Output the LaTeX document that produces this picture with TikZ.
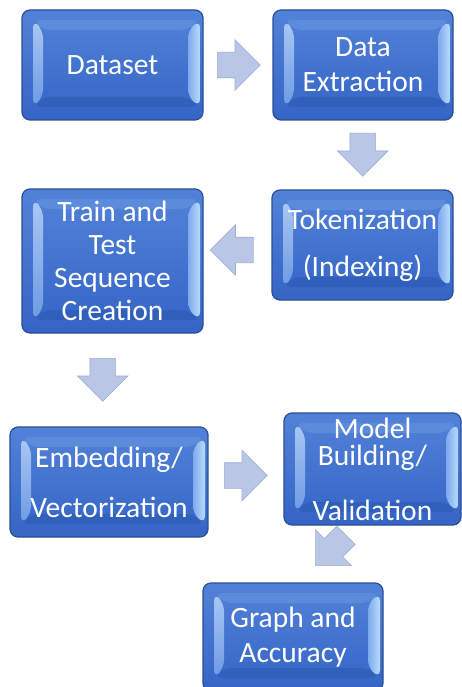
\documentclass[tikz,border=0pt]{standalone}
\usepackage{fontspec}
\setmainfont{Carlito}
\usetikzlibrary{shapes.arrows,calc}
\definecolor{faceA}{HTML}{5282D8}
\definecolor{faceB}{HTML}{3465C6}
\definecolor{edgeC}{HTML}{2A4E96}
\definecolor{lbevA}{HTML}{A9C8F4}
\definecolor{lbevB}{HTML}{6E9AE3}
\definecolor{rbevA}{HTML}{B8DCFB}
\definecolor{rbevB}{HTML}{7FA9EE}
\definecolor{tbev}{HTML}{5D8BDC}
\definecolor{bbev}{HTML}{3160BC}
\definecolor{arrF}{HTML}{B9C6E6}
\definecolor{arrD}{HTML}{9DADD4}
\tikzset{
  bevelbox/.style={rectangle, rounded corners=8pt, draw=edgeC, line width=1.2pt,
    top color=faceA, bottom color=faceB, text=white,
    font=\fontsize{29.5}{33}\selectfont, align=center, inner sep=0pt,
    path picture={
      \coordinate (oNW) at ($(path picture bounding box.north west)+(11pt,-10pt)$);
      \coordinate (oNE) at ($(path picture bounding box.north east)+(-3pt,-10pt)$);
      \coordinate (oSW) at ($(path picture bounding box.south west)+(11pt,13pt)$);
      \coordinate (oSE) at ($(path picture bounding box.south east)+(-3pt,13pt)$);
      \coordinate (iNW) at ($(oNW)+(10pt,-10pt)$);
      \coordinate (iNE) at ($(oNE)+(-12pt,-10pt)$);
      \coordinate (iSW) at ($(oSW)+(10pt,10pt)$);
      \coordinate (iSE) at ($(oSE)+(-12pt,10pt)$);
      \fill[tbev] (oNW) -- (oNE) -- (iNE) -- (iNW) -- cycle;
      \fill[bbev] (oSW) -- (oSE) -- (iSE) -- (iSW) -- cycle;
      \shade[top color=lbevA, bottom color=lbevB] (oNW) -- (iNW) -- (iSW) -- (oSW) -- cycle;
      \shade[left color=rbevB, right color=rbevA] (oNE) -- (iNE) -- (iSE) -- (oSE) -- cycle;
    }},
  blockarrow/.style={single arrow, draw=arrD, fill=arrF, line width=0.6pt,
    inner sep=12.5pt, single arrow head extend=12.5pt, minimum height=43pt, anchor=tail}
}
\begin{document}
\begin{tikzpicture}[x=1pt,y=-1pt]
\path[fill=white,use as bounding box] (0,0) rectangle (461,687);

\node[bevelbox, minimum width=181pt, minimum height=110pt] (ds) at (112.5,65) {Dataset};
\node[bevelbox, minimum width=180pt, minimum height=110pt] (de) at (363,65) {Data\\[2pt]Extraction};
\node[bevelbox, minimum width=181pt, minimum height=110pt] (tk) at (362.5,245) {Tokenization\\[14pt](Indexing)};
\node[bevelbox, minimum width=181pt, minimum height=144pt] (tt) at (112.5,261) {Train and\\Test\\Sequence\\Creation};
\node[bevelbox, minimum width=198pt, minimum height=110pt] (em) at (109,482) {Embedding/\\[17pt]Vectorization};
\node[bevelbox, minimum width=177pt, minimum height=112pt] (mb) at (372.5,469) {Model\\[-6pt]Building/\\[22pt]Validation};
\node[bevelbox, minimum width=180pt, minimum height=108pt] (ga) at (293,637) {Graph and\\[2pt]Accuracy};

\node[blockarrow, rotate=0] (a1) at ($(ds.east)!0.5!(de.west)+(-21,0)$) {};
\node[blockarrow, rotate=-90] (a2) at ($(de.south)!0.5!(tk.north)+(0,-22)$) {};
\node[blockarrow, rotate=180] (a3) at ($(tk.west)!0.5!(tt.east |- tk.west)+(16,5)$) {};
\node[blockarrow, rotate=-90] (a4) at ($(tt.south)!0.5!(em.north)+(-8,-22)$) {};
\node[blockarrow, rotate=0] (a5) at ($(em.east)!0.5!(mb.west)+(-22,0)$) {};
\node[blockarrow, rotate=225] (a6) at ($(mb.south)!0.5!(ga.north)+(13.5,-19)$) {};
\end{tikzpicture}
\end{document}
